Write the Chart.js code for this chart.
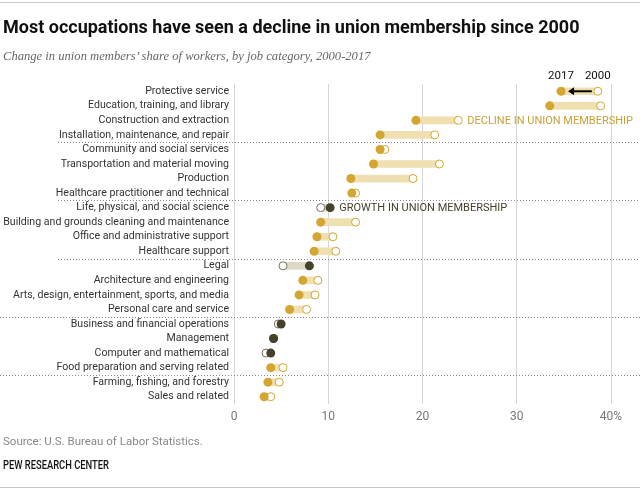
<!DOCTYPE html>
<html>
<head>
<meta charset="utf-8">
<script src="https://cdn.jsdelivr.net/npm/chart.js@4.4.1/dist/chart.umd.min.js"></script>
<style>
    body { margin: 0; background: #fff; }
    .wrap { position: relative; width: 640px; height: 494px; overflow: hidden; }
    canvas { position: absolute; left: 0; top: 0; }
    .rule { position: absolute; left: 0; width: 640px; height: 1px; background: #c8c8c8; }
    .title { position: absolute; left: 3px; top: 16px; font: bold 18px Roboto, sans-serif; color: #111; white-space: nowrap; }
    .subtitle { position: absolute; left: 3px; top: 49px; font: italic 12.6px "Liberation Serif", Georgia, serif; color: #666; white-space: nowrap; }
    .source { position: absolute; left: 3px; top: 434px; font: 11.5px Roboto, sans-serif; color: #888; white-space: nowrap; }
    .pew { position: absolute; left: 3px; top: 458px; font: 500 12px Roboto, sans-serif; color: #111; white-space: nowrap; transform: scaleX(0.78); transform-origin: 0 0; }
</style>
</head>
<body>
<div class="wrap">
    <canvas id="chart" width="640" height="494"></canvas>
    <div class="rule" style="top:2px"></div>
    <div class="title">Most occupations have seen a decline in union membership since 2000</div>
    <div class="subtitle">Change in union members’ share of workers, by job category, 2000-2017</div>
    <div class="source">Source: U.S. Bureau of Labor Statistics.</div>
    <div class="pew">PEW RESEARCH CENTER</div>
    <div class="rule" style="top:487px"></div>
</div>
<script>
// union members' share of workers, %
const categories = [
    "Protective service",
    "Education, training, and library",
    "Construction and extraction",
    "Installation, maintenance, and repair",
    "Community and social services",
    "Transportation and material moving",
    "Production",
    "Healthcare practitioner and technical",
    "Life, physical, and social science",
    "Building and grounds cleaning and maintenance",
    "Office and administrative support",
    "Healthcare support",
    "Legal",
    "Architecture and engineering",
    "Arts, design, entertainment, sports, and media",
    "Personal care and service",
    "Business and financial operations",
    "Management",
    "Computer and mathematical",
    "Food preparation and serving related",
    "Farming, fishing, and forestry",
    "Sales and related"
];
const share2000 = [38.6, 38.9, 23.8, 21.3, 16.0, 21.8, 19.0, 12.9, 9.2, 12.9, 10.5, 10.8, 5.2, 8.9, 8.6, 7.7, 4.7, 4.2, 3.4, 5.2, 4.8, 3.9];
const share2017 = [34.7, 33.5, 19.3, 15.5, 15.5, 14.8, 12.4, 12.5, 10.2, 9.2, 8.8, 8.5, 8.0, 7.3, 6.9, 5.9, 5.0, 4.2, 3.9, 3.9, 3.6, 3.2];
const xTicks = [0, 10, 20, 30, 40];
const groupEnds = [3, 7, 11, 15, 19];

const GOLD = "#d3a632";
const GOLD_LIGHT = "#efdfb1";
const DARK = "#47412c";
const DARK_LIGHT = "#dcd9c7";
const FONT = "Roboto, sans-serif";

const growth = categories.map((c, i) => share2017[i] >= share2000[i]);

const overlay = {
    id: "overlay",
    beforeDatasetsDraw(chart) {
        const { ctx, scales: { y } } = chart;
        ctx.save();
        ctx.strokeStyle = "#8a8a8a";
        ctx.lineWidth = 1;
        ctx.setLineDash([1, 2]);
        groupEnds.forEach((g, k) => {
            const yy = Math.round((y.getPixelForValue(g) + y.getPixelForValue(g + 1)) / 2) + 0.5;
            ctx.beginPath();
            ctx.moveTo(k < 3 ? 58 : 0, yy);
            ctx.lineTo(640, yy);
            ctx.stroke();
        });
        ctx.restore();
    },
    afterDatasetsDraw(chart) {
        const { ctx, scales: { x, y } } = chart;
        ctx.save();
        const y0 = y.getPixelForValue(0);
        const a = x.getPixelForValue(share2017[0]);
        const b = x.getPixelForValue(share2000[0]);

        ctx.font = "11.5px " + FONT;
        ctx.fillStyle = "#111";
        ctx.textAlign = "center";
        ctx.textBaseline = "middle";
        ctx.fillText("2017", a, y0 - 15);
        ctx.fillText("2000", b, y0 - 15);

        // arrow from 2000 to 2017
        ctx.strokeStyle = "#000";
        ctx.fillStyle = "#000";
        ctx.lineWidth = 2;
        ctx.beginPath();
        ctx.moveTo(b - 6, y0);
        ctx.lineTo(a + 11, y0);
        ctx.stroke();
        ctx.beginPath();
        ctx.moveTo(a + 7, y0);
        ctx.lineTo(a + 13, y0 - 4);
        ctx.lineTo(a + 13, y0 + 4);
        ctx.closePath();
        ctx.fill();

        ctx.font = "11px " + FONT;
        ctx.textAlign = "left";
        ctx.fillStyle = "#c9a035";
        ctx.fillText("DECLINE IN UNION MEMBERSHIP", x.getPixelForValue(share2000[2]) + 9, y.getPixelForValue(2) + 1);
        ctx.fillStyle = DARK;
        ctx.fillText("GROWTH IN UNION MEMBERSHIP", x.getPixelForValue(share2017[8]) + 9, y.getPixelForValue(8) + 1);
        ctx.restore();
    }
};

new Chart(document.getElementById("chart"), {
    type: "bar",
    data: {
        labels: categories,
        datasets: [{
            label: "2017",
            type: "line",
            indexAxis: "y",
            showLine: false,
            order: 1,
            data: share2017.map((v, i) => ({ x: v, y: categories[i] })),
            pointRadius: 4.5,
            pointBorderWidth: 0,
            pointBackgroundColor: growth.map(g => g ? DARK : GOLD),
            pointBorderColor: growth.map(g => g ? DARK : GOLD)
        }, {
            label: "2000",
            type: "line",
            indexAxis: "y",
            showLine: false,
            order: 2,
            data: share2000.map((v, i) => ({ x: v, y: categories[i] })),
            pointRadius: 4,
            pointBorderWidth: 1,
            pointBackgroundColor: "#fff",
            pointBorderColor: growth.map(g => g ? "#77725c" : GOLD)
        }, {
            label: "change",
            order: 3,
            data: share2000.map((v, i) => [Math.min(v, share2017[i]), Math.max(v, share2017[i])]),
            backgroundColor: growth.map(g => g ? DARK_LIGHT : GOLD_LIGHT),
            barThickness: 7,
            borderWidth: 0,
            borderSkipped: false
        }]
    },
    options: {
        indexAxis: "y",
        responsive: false,
        animation: false,
        events: [],
        layout: { padding: { left: 0, right: 29, top: 84, bottom: 68 } },
        plugins: {
            legend: { display: false },
            tooltip: { enabled: false }
        },
        scales: {
            x: {
                type: "linear",
                min: 0,
                max: 40,
                afterBuildTicks: s => { s.ticks = xTicks.map(v => ({ value: v })); },
                afterFit: s => { s.height = 22; },
                grid: { color: "#d6d6d6", drawTicks: false },
                border: { display: false },
                ticks: {
                    padding: 6,
                    color: "#777",
                    font: { family: FONT, size: 12 },
                    callback: v => v === 40 ? "40%" : v
                }
            },
            y: {
                type: "category",
                offset: true,
                afterFit: s => { s.width = 234; },
                grid: { display: false, drawTicks: false },
                border: { display: false },
                ticks: {
                    padding: 5,
                    autoSkip: false,
                    color: "#333",
                    font: { family: FONT, size: 10.6 }
                }
            }
        }
    },
    plugins: [overlay]
});
</script>
</body>
</html>
